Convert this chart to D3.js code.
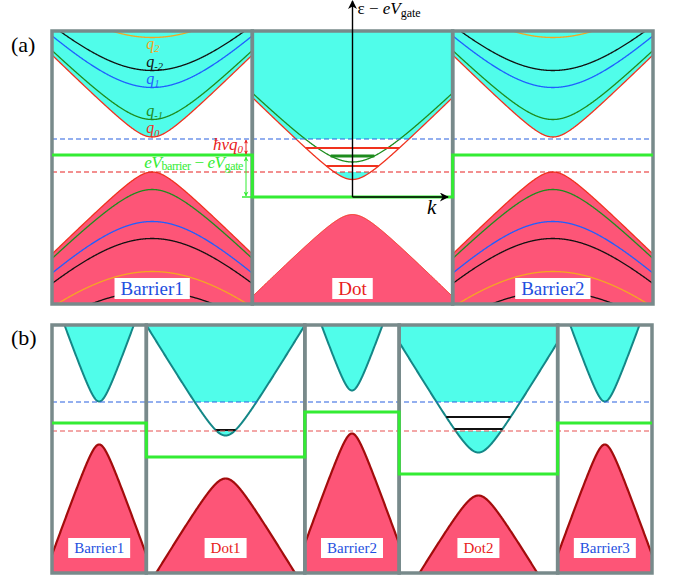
<!DOCTYPE html>
<html><head><meta charset="utf-8">
<script src="https://cdn.jsdelivr.net/npm/d3@7"></script>
<style>body{margin:0;background:#fff}svg{display:block}</style>
</head><body><svg id="c" width="675" height="577"></svg>
<script>
// ---------------- data: panel (a) ----------------
const regionsA = ["Barrier1", "Dot", "Barrier2"];
const regionKindA = ["barrier", "dot", "barrier"];
const bandMidA = [42.5, 0, 42.5];          // band-centre energy (ε − eV_gate)
const barrierPotA = [42, 0, 42];           // eV_barrier − eV_gate profile
const subbandNamesA = ["q0", "q-1", "q1", "q-2", "q2", "q-3"];
const subbandGapA = [17.5, 35, 67, 84, 117, 137];
const dotSubbandsA = ["q0", "q-1"];
const labelSubbandsA = ["q2", "q-2", "q1", "q-1", "q0"];
const velocityA = 98;
const blueLevelA = 58, redLevelA = 25;
const dotLevelEnergyA = [49, 41, 31];
const dotLevelBandA = ["q0", "q-1", "q0"];
// ---------------- data: panel (b) ----------------
const regionsB = ["Barrier1", "Dot1", "Barrier2", "Dot2", "Barrier3"];
const regionKindB = ["barrier", "dot", "barrier", "dot", "barrier"];
const bandMidB = [51, 17, 62, 0, 51];
const halfGapB = 21.5;
const velocityB = 130;
const blueLevelB = 72, redLevelB = 43;
const levelRegionB = ["Dot1", "Dot2", "Dot2"];
const levelEnergyB = [44, 57, 45];

// ---------------- styles ----------------
const SERIF = "Liberation Serif";
const CYAN = "#50fdea", PINK = "#fd5577", GRAY = "#788a8b", BGREEN = "#33ec33";
const subColor = {"q0": "#f0321e", "q-1": "#1e8c1e", "q1": "#1f5fff", "q-2": "#111", "q2": "#f5a623", "q-3": "#111"};

const svg = d3.select("#c");
const defs = svg.append("defs");
function marker(id, color, w, h) {
  defs.append("marker").attr("id", id).attr("viewBox", "0 0 10 10").attr("refX", 9).attr("refY", 5)
    .attr("markerUnits", "userSpaceOnUse").attr("markerWidth", w).attr("markerHeight", h).attr("orient", "auto-start-reverse")
    .append("path").attr("d", "M0,0 L10,5 L0,10 L3,5 z").attr("fill", color);
}
marker("ak", "#000", 16, 9);
marker("ag", BGREEN, 6, 5);
marker("ar", "#e82020", 5, 4);

const ks = d3.range(-1.2, 1.2001, 0.004);
const disp = (mid, gap, v, sign) => k => mid + sign * Math.hypot(gap, v * k);
let clipN = 0;
function clipRects(rects) {
  const id = "cl" + (clipN++);
  const cp = defs.append("clipPath").attr("id", id);
  rects.forEach(r => cp.append("rect").attr("x", r[0]).attr("y", r[1]).attr("width", r[2]).attr("height", r[3]));
  return "url(#" + id + ")";
}
function txt(g) { return g.append("text").attr("font-family", SERIF); }

function drawRegion(g, o) {
  const xk = d3.scaleLinear().domain([-1, 1]).range([o.x0, o.x1]);
  const w = o.x1 - o.x0;
  const panelClip = clipRects([[o.x0, o.top, w, o.bottom - o.top]]);
  const yb = o.y(o.blue), yr = o.y(o.red);
  const condClip = clipRects([[o.x0, o.top, w, yb - o.top], [o.x0, yr, w, o.bottom - yr]]);
  const c0 = disp(o.mid, o.gap0, o.v, 1), v0 = disp(o.mid, o.gap0, o.v, -1);
  g.append("path").attr("clip-path", condClip).attr("fill", CYAN)
    .attr("d", d3.area().x(k => xk(k)).y0(o.top - 5).y1(k => o.y(c0(k)))(ks));
  g.append("path").attr("clip-path", panelClip).attr("fill", PINK)
    .attr("d", d3.area().x(k => xk(k)).y0(o.bottom + 5).y1(k => o.y(v0(k)))(ks));
  const lg = g.append("g").attr("clip-path", panelClip);
  o.condLines.forEach(L => lg.append("path").attr("fill", "none").attr("stroke", L.color).attr("stroke-width", L.w)
    .attr("d", d3.line().x(k => xk(k)).y(k => o.y(disp(o.mid, L.gap, o.v, 1)(k)))(ks)));
  o.valLines.forEach(L => lg.append("path").attr("fill", "none").attr("stroke", L.color).attr("stroke-width", L.w)
    .attr("d", d3.line().x(k => xk(k)).y(k => o.y(disp(o.mid, L.gap, o.v, -1)(k)))(ks)));
  return xk;
}

// ---------------- panel (a) ----------------
const topA = 31, botA = 304;
const yA = d3.scaleLinear().domain([0, 100]).range([197, 97]);
const xA = d3.scaleBand().domain(regionsA).range([52, 653]);
const gA = svg.append("g");
const xkA = {};
regionsA.forEach((r, i) => {
  const x0 = xA(r), x1 = x0 + xA.bandwidth();
  const isDot = regionKindA[i] === "dot";
  const names = isDot ? dotSubbandsA : subbandNamesA;
  const lines = names.map(n => ({gap: subbandGapA[subbandNamesA.indexOf(n)], color: subColor[n], w: 1.3})).reverse();
  xkA[r] = drawRegion(gA, {x0, x1, top: topA, bottom: botA, y: yA, mid: bandMidA[i], gap0: subbandGapA[0], v: velocityA,
    blue: blueLevelA, red: redLevelA, condLines: lines,
    valLines: isDot ? [{gap: subbandGapA[0], color: "#f0321e", w: 1}] : lines});
});
// quantised levels in the dot
dotLevelEnergyA.forEach((E, i) => {
  const b = dotLevelBandA[i], gap = subbandGapA[subbandNamesA.indexOf(b)];
  const mid = bandMidA[regionsA.indexOf("Dot")];
  const k = Math.sqrt((E - mid) ** 2 - gap ** 2) / velocityA;
  gA.append("line").attr("x1", xkA.Dot(-k)).attr("x2", xkA.Dot(k)).attr("y1", yA(E)).attr("y2", yA(E))
    .attr("stroke", b === "q0" ? "#f0321e" : "#1e8c1e").attr("stroke-width", b === "q0" ? 2 : 3);
});
// dashed reference lines
[[blueLevelA, "#2860e0"], [redLevelA, "#e82020"]].forEach(([E, c]) =>
  gA.append("line").attr("x1", 52).attr("x2", 653).attr("y1", yA(E)).attr("y2", yA(E))
    .attr("stroke", c).attr("stroke-width", 1.1).attr("stroke-dasharray", "5,3"));
// borders
regionsA.forEach(r => gA.append("rect").attr("x", xA(r)).attr("y", topA).attr("width", xA.bandwidth()).attr("height", botA - topA)
  .attr("fill", "none").attr("stroke", GRAY).attr("stroke-width", 3.5));
// barrier potential profile
const ptsA = [];
regionsA.forEach((r, i) => { ptsA.push([xA(r), yA(barrierPotA[i])]); ptsA.push([xA(r) + xA.bandwidth(), yA(barrierPotA[i])]); });
gA.append("path").attr("d", d3.line()(ptsA)).attr("fill", "none").attr("stroke", BGREEN).attr("stroke-width", 3);
// axes
const ax0 = xkA.Dot(0);
gA.append("line").attr("x1", ax0).attr("x2", ax0).attr("y1", yA(0)).attr("y2", 1).attr("stroke", "#000").attr("stroke-width", 1.4).attr("marker-end", "url(#ak)");
gA.append("line").attr("x1", ax0).attr("x2", 448).attr("y1", yA(0)).attr("y2", yA(0)).attr("stroke", "#000").attr("stroke-width", 1.4).attr("marker-end", "url(#ak)");
const axl = txt(gA).attr("x", ax0 + 5).attr("y", 14).attr("font-size", 17);
axl.append("tspan").text("ε − ");
axl.append("tspan").attr("font-style", "italic").text("eV");
axl.append("tspan").attr("font-size", 12).attr("dy", 3).text("gate");
txt(gA).attr("x", 427).attr("y", 214).attr("font-size", 21).attr("font-style", "italic").text("k");
// subband labels
const cA = xA("Barrier1") + xA.bandwidth() / 2;
labelSubbandsA.forEach((n, i) => {
  const gap = subbandGapA[subbandNamesA.indexOf(n)];
  const yMin = yA(bandMidA[0] + gap);
  const t = txt(gA).attr("x", cA - 6).attr("y", i === 0 ? yMin + 11 : yMin - 4)
    .attr("font-size", 16).attr("font-style", "italic").attr("fill", subColor[n]);
  t.append("tspan").text("q");
  t.append("tspan").attr("font-size", 10.5).attr("dy", 3.5).text(n.slice(1));
});
// annotations
const xAnn = 246;
gA.append("line").attr("x1", xAnn).attr("x2", xAnn).attr("y1", yA(blueLevelA) + 1).attr("y2", yA(barrierPotA[0]) - 1)
  .attr("stroke", "#e82020").attr("stroke-width", 1).attr("marker-start", "url(#ar)").attr("marker-end", "url(#ar)");
gA.append("line").attr("x1", xAnn).attr("x2", xAnn).attr("y1", yA(barrierPotA[0]) + 2).attr("y2", yA(0) - 1)
  .attr("stroke", BGREEN).attr("stroke-width", 1).attr("marker-start", "url(#ag)").attr("marker-end", "url(#ag)");
gA.append("line").attr("x1", 242).attr("x2", xA("Dot")).attr("y1", yA(0)).attr("y2", yA(0)).attr("stroke", BGREEN).attr("stroke-width", 1.5);
const hv = txt(gA).attr("x", 243).attr("y", 150).attr("text-anchor", "end").attr("font-size", 17).attr("font-style", "italic").attr("fill", "#e82020");
hv.append("tspan").text("ħvq");
hv.append("tspan").attr("font-size", 11).attr("dy", 3).text("0");
const eb = txt(gA).attr("x", 243).attr("y", 168).attr("text-anchor", "end").attr("font-size", 17).attr("fill", BGREEN).attr("letter-spacing", -0.4);
eb.append("tspan").attr("font-style", "italic").text("eV");
eb.append("tspan").attr("font-size", 12).attr("dy", 2).text("barrier");
eb.append("tspan").attr("dy", -2).text(" − ");
eb.append("tspan").attr("font-style", "italic").text("eV");
eb.append("tspan").attr("font-size", 12).attr("dy", 2).text("gate");

// ---------------- panel (b) ----------------
const topB = 325, botB = 573;
const yB = d3.scaleLinear().domain([0, 100]).range([474, 374]);
const wts = regionKindB.map(k => k === "dot" ? 1.68 : 1);
const unitB = (652 - 52) / d3.sum(wts);
const x0B = [], x1B = [];
let acc = 52;
wts.forEach(w => { x0B.push(acc); acc += w * unitB; x1B.push(acc); });
const gB = svg.append("g");
const xkB = {};
regionsB.forEach((r, i) => {
  xkB[r] = drawRegion(gB, {x0: x0B[i], x1: x1B[i], top: topB, bottom: botB, y: yB, mid: bandMidB[i], gap0: halfGapB, v: velocityB,
    blue: blueLevelB, red: redLevelB,
    condLines: [{gap: halfGapB, color: "#148787", w: 2}], valLines: [{gap: halfGapB, color: "#a30c0c", w: 2.2}]});
});
levelEnergyB.forEach((E, i) => {
  const r = levelRegionB[i], mid = bandMidB[regionsB.indexOf(r)];
  const k = Math.sqrt((E - mid) ** 2 - halfGapB ** 2) / velocityB;
  gB.append("line").attr("x1", xkB[r](-k)).attr("x2", xkB[r](k)).attr("y1", yB(E)).attr("y2", yB(E)).attr("stroke", "#111").attr("stroke-width", 2);
});
[[blueLevelB, "#2860e0"], [redLevelB, "#e85050"]].forEach(([E, c]) =>
  gB.append("line").attr("x1", 52).attr("x2", 652).attr("y1", yB(E)).attr("y2", yB(E))
    .attr("stroke", c).attr("stroke-width", 1.1).attr("stroke-dasharray", "5,3"));
regionsB.forEach((r, i) => gB.append("rect").attr("x", x0B[i]).attr("y", topB).attr("width", x1B[i] - x0B[i]).attr("height", botB - topB)
  .attr("fill", "none").attr("stroke", GRAY).attr("stroke-width", 3.5));
const ptsB = [];
regionsB.forEach((r, i) => { ptsB.push([x0B[i], yB(bandMidB[i])]); ptsB.push([x1B[i], yB(bandMidB[i])]); });
gB.append("path").attr("d", d3.line()(ptsB)).attr("fill", "none").attr("stroke", BGREEN).attr("stroke-width", 3);

// ---------------- region name boxes ----------------
function nameBox(g, text, cx, yTop, h, size, color) {
  const t = txt(g).attr("x", cx).attr("y", yTop + h / 2 + size * 0.34).attr("text-anchor", "middle")
    .attr("font-size", size).attr("fill", color).text(text);
  const tw = t.node().getComputedTextLength();
  g.insert("rect", () => t.node()).attr("x", cx - tw / 2 - 6).attr("y", yTop).attr("width", tw + 12).attr("height", h).attr("fill", "#fff");
}
regionsA.forEach((r, i) => nameBox(gA, r, xA(r) + xA.bandwidth() / 2, 278, 21, 19, regionKindA[i] === "dot" ? "#e82020" : "#1f4fe0"));
regionsB.forEach((r, i) => nameBox(gB, r, (x0B[i] + x1B[i]) / 2, 538, 20, 15, regionKindB[i] === "dot" ? "#e82020" : "#1f4fe0"));

txt(svg).attr("x", 11).attr("y", 52).attr("font-size", 22).text("(a)");
txt(svg).attr("x", 11).attr("y", 345).attr("font-size", 22).text("(b)");
</script></body></html>
